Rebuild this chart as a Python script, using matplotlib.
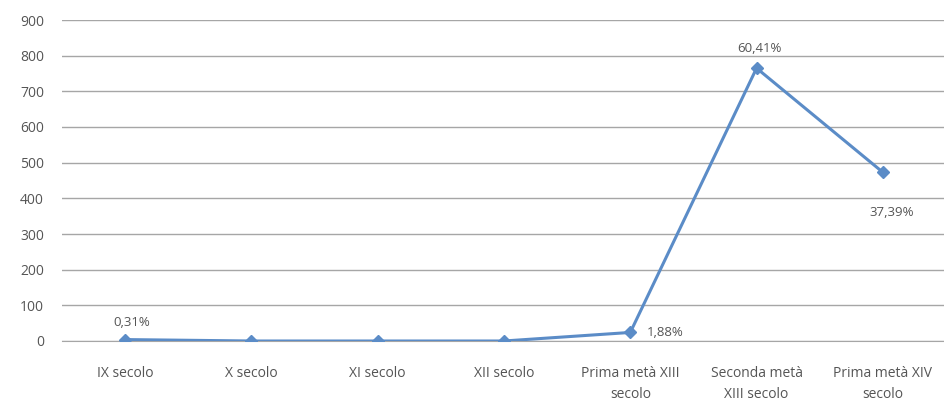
import matplotlib.pyplot as plt

categories = ['IX secolo', 'X secolo', 'XI secolo', 'XII secolo',
              'Prima metà XIII\nsecolo', 'Seconda metà\nXIII secolo', 'Prima metà XIV\nsecolo']
values = [4, 0, 0, 0, 24, 765, 473]
labels = ['0,31%', None, None, None, '1,88%', '60,41%', '37,39%']
yticks = [0, 100, 200, 300, 400, 500, 600, 700, 800, 900]

plt.rcParams['font.family'] = ['Open Sans', 'DejaVu Sans']

fig = plt.figure(figsize=(9.44, 4.01), dpi=100)
ax = fig.add_axes([62 / 944, 60 / 401, 884 / 944, 321 / 401])

x = list(range(len(categories)))
ax.plot(x, values, color='#5B8CC7', lw=2.2, marker='D', ms=6, zorder=3)

# etichette dei dati (offset in punti)
offsets = {0: (5, 12, 'center', 'center'), 4: (12, 0, 'left', 'center'),
           5: (2, 14, 'center', 'center'), 6: (6, -29, 'center', 'center')}
for i, lab in enumerate(labels):
    if lab is None:
        continue
    dx, dy, ha, va = offsets[i]
    ax.annotate(lab, (x[i], values[i]), xytext=(dx, dy), textcoords='offset points',
                ha=ha, va=va, fontsize=9.5, color='#555555')

ax.set_xlim(-0.5, 6.5)
ax.set_ylim(0, 900)
ax.set_yticks(yticks)
ax.set_xticks(x)
ax.set_xticklabels(categories, fontsize=10, color='#555555', linespacing=1.5)
ax.tick_params(axis='y', labelsize=10, labelcolor='#555555', length=0, pad=13)
ax.tick_params(axis='x', length=0, pad=18)
ax.grid(axis='y', color='#A6A6A6', lw=1)
ax.set_axisbelow(True)
for s in ['top', 'right', 'left']:
    ax.spines[s].set_visible(False)
ax.spines['bottom'].set_color('#A6A6A6')

fig.savefig('out.png', dpi=100)
